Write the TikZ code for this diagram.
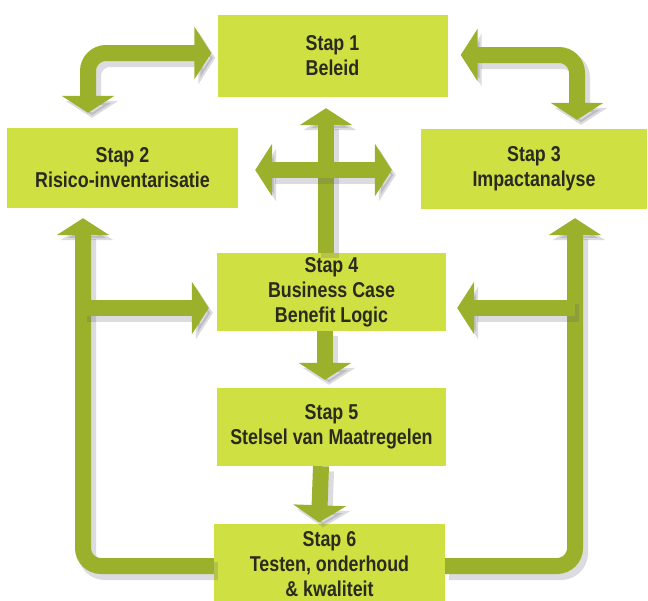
\documentclass[tikz,border=0pt]{standalone}
\usepackage{fontspec}
\setmainfont[FakeStretch=0.83]{Liberation Sans}
\usetikzlibrary{arrows.meta}
\definecolor{boxgreen}{HTML}{CFE042}
\definecolor{arrgreen}{HTML}{9BB12C}
\definecolor{txtdark}{HTML}{2A2A1E}
\definecolor{shadowc}{HTML}{5A5A70}
\tikzset{
  stepbox/.style={fill=boxgreen, draw=none, inner sep=0pt, align=center,
    text=txtdark, font=\fontsize{21.5}{25}\selectfont\bfseries},
  garrow/.style={draw=arrgreen, line width=16pt, line cap=butt, rounded corners=18pt},
  gshadow/.style={draw=shadowc, line width=18pt, line cap=butt, rounded corners=18pt, opacity=0.22},
  tipA/.tip={Triangle[width=52pt,length=17pt]}
}
\newcommand\garr[2]{%
  \draw[gshadow,#1,transform canvas={shift={(4pt,-5pt)}}] #2;
  \draw[garrow,#1] #2;}
\begin{document}
\begin{tikzpicture}[x=1pt,y=-1pt]
\useasboundingbox (0,0) rectangle (648,600);
\begin{scope}
\clip (0,0) rectangle (648,600);
% boxes
\node[stepbox, minimum width=230pt, minimum height=82pt] (b1) at (332.5,56) {Stap 1\\Beleid};
\node[stepbox, minimum width=231pt, minimum height=80pt] (b2) at (122.5,168) {Stap 2\\Risico-inventarisatie};
\node[stepbox, minimum width=226pt, minimum height=80pt] (b3) at (534,169) {Stap 3\\Impactanalyse};
\node[stepbox, minimum width=229pt, minimum height=78pt] (b4) at (331.5,292) {Stap 4\\Business Case\\Benefit Logic};
\node[stepbox, minimum width=229pt, minimum height=78pt] (b5) at (331.5,427) {Stap 5\\Stelsel van Maatregelen};
\node[stepbox, minimum width=231pt, minimum height=82pt] (b6) at (329.5,564.5) {Stap 6\\Testen, onderhoud\\\& kwaliteit};
% junction coordinates
\coordinate (lj) at (83,308);
\coordinate (rj) at (575,308);
% arrows
\garr{tipA-tipA}{([shift={(-6,-3)}]b1.west) -| ([shift={(-34.5,-15)}]b2.north)}
\garr{tipA-tipA}{([shift={(13,-1)}]b1.east) -| ([shift={(43,-9)}]b3.north)}
\garr{-tipA}{([xshift=-5.5pt]b4.north) -- ([shift={(-6.5,11)}]b1.south)}
\garr{tipA-tipA}{([shift={(17,2)}]b2.east) -- ([shift={(-29,1)}]b3.west)}
\garr{-tipA}{([yshift=-1.5pt]b6.west) -| ([shift={(-39.5,10)}]b2.south)}
\garr{-tipA}{(lj) -- ([shift={(-8,16)}]b4.west)}
\garr{-tipA}{([yshift=-1.5pt]b6.east) -| ([shift={(41,9)}]b3.south)}
\garr{-tipA}{(rj) -- ([shift={(11,16)}]b4.east)}
\garr{-tipA}{([xshift=-6.5pt]b4.south) -- ([shift={(-6.5,-8)}]b5.north)}
\garr{-tipA}{([xshift=-10.5pt]b5.south) -- ([shift={(-10.5,-1)}]b6.north)}
\end{scope}
\end{tikzpicture}
\end{document}
